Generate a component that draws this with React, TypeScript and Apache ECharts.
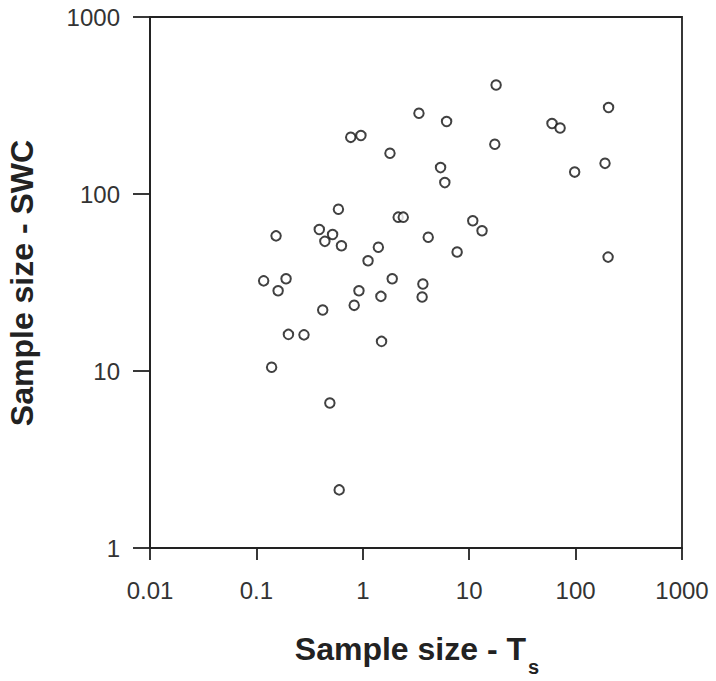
import React, { useEffect, useRef } from "react";
import * as echarts from "echarts";

// Sample size - Ts (x) vs Sample size - SWC (y)
const xValues: number[] = [
  0.77, 0.96, 1.8, 0.59, 2.15, 2.4, 0.39, 0.52, 0.153, 0.44,
  0.63, 1.4, 1.12, 0.117, 0.19, 1.89, 0.16, 0.92, 1.48, 17.9,
  204, 3.37, 6.13, 60, 71.5, 17.4, 189, 98, 5.38, 5.9,
  10.8, 13.2, 4.12, 7.7, 202, 3.67, 3.61, 0.42, 0.83, 0.2,
  0.28, 1.5, 0.139, 0.49, 0.6,
];
const yValues: number[] = [
  209, 214, 170, 82, 74, 74, 63, 59, 58, 54,
  51, 50, 42, 32.3, 33.2, 33.2, 28.4, 28.4, 26.4, 413,
  308, 286, 257, 250, 236, 191, 149, 133, 141, 116,
  70.6, 62, 57, 47, 44, 31, 26.2, 22.1, 23.5, 16.1,
  16, 14.7, 10.5, 6.6, 2.13,
];
const xTickLabels: string[] = ["0.01", "0.1", "1", "10", "100", "1000"];
const yTickLabels: string[] = ["1", "10", "100", "1000"];
const xTitle = "Sample size - T";
const xTitleSub = "s";
const yTitle = "Sample size - SWC";

const INK = "#222";
const FONT = "'Liberation Sans', Arial, Helvetica, sans-serif";

export default function App() {
  const ref = useRef<HTMLDivElement>(null);
  useEffect(() => {
    if (!ref.current) return;
    const chart = echarts.init(ref.current, undefined, { renderer: "svg" });
    const data = xValues.map((x, i) => [x, yValues[i]]);
    const fmt = (labels: string[]) => (v: number) => {
      const l = Math.log10(v);
      const s = labels.find((t) => Math.abs(Math.log10(parseFloat(t)) - l) < 1e-6);
      return s ?? "";
    };
    chart.setOption({
      animation: false,
      backgroundColor: "#fff",
      grid: {
        left: 150,
        top: 17,
        width: 532,
        height: 531,
        show: true,
        borderColor: INK,
        borderWidth: 1.8,
        backgroundColor: "transparent",
      },
      xAxis: {
        type: "log",
        logBase: 10,
        min: 0.01,
        max: 1000,
        axisLine: { show: true, lineStyle: { color: INK, width: 1.8 } },
        axisTick: { show: true, length: 12, lineStyle: { color: INK, width: 1.8 } },
        axisLabel: {
          margin: 30,
          fontSize: 24,
          fontFamily: FONT,
          color: "#333",
          formatter: fmt(xTickLabels),
        },
        splitLine: { show: false },
        minorTick: { show: false },
      },
      yAxis: {
        type: "log",
        logBase: 10,
        min: 1,
        max: 1000,
        axisLine: { show: true, lineStyle: { color: INK, width: 1.8 } },
        axisTick: { show: true, length: 17, lineStyle: { color: INK, width: 1.8 } },
        axisLabel: {
          margin: 30,
          fontSize: 24,
          fontFamily: FONT,
          color: "#333",
          formatter: fmt(yTickLabels),
        },
        splitLine: { show: false },
      },
      series: [
        {
          type: "scatter",
          data,
          symbol: "circle",
          symbolSize: 9.5,
          itemStyle: { color: "#fff", borderColor: "#111", borderWidth: 2 },
        },
      ],
      graphic: [
        {
          type: "text",
          x: 22,
          y: 283,
          rotation: Math.PI / 2,
          style: {
            text: yTitle,
            fontSize: 32,
            fontWeight: "bold",
            fontFamily: FONT,
            fill: "#222",
            textAlign: "center",
            textVerticalAlign: "middle",
          },
        },
        {
          type: "text",
          x: 526,
          y: 649,
          style: {
            text: xTitle,
            fontSize: 32,
            fontWeight: "bold",
            fontFamily: FONT,
            fill: "#222",
            textAlign: "right",
            textVerticalAlign: "middle",
          },
        },
        {
          type: "text",
          x: 528,
          y: 667,
          style: {
            text: xTitleSub,
            fontSize: 20,
            fontWeight: "bold",
            fontFamily: FONT,
            fill: "#222",
            textAlign: "left",
            textVerticalAlign: "middle",
          },
        },
      ],
    });
    return () => chart.dispose();
  }, []);
  return (
    <div
      ref={ref}
      style={{ position: "fixed", left: 0, top: 0, width: 716, height: 681 }}
    />
  );
}
